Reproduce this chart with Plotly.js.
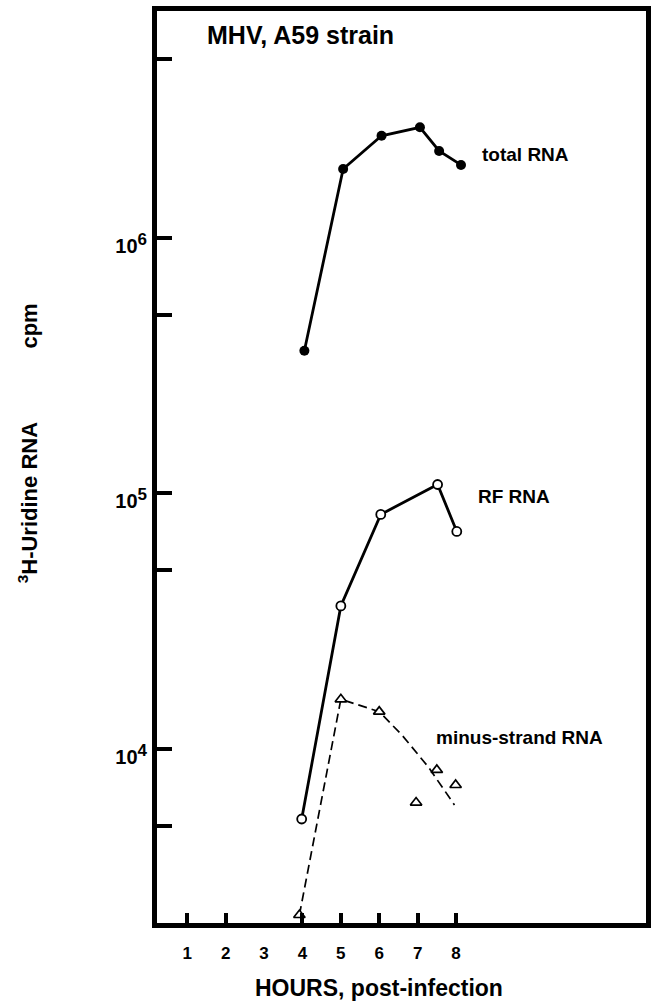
<!DOCTYPE html>
<html>
<head>
<meta charset="utf-8">
<script src="https://cdn.plot.ly/plotly-3.0.1.min.js"></script>
<style>html,body{margin:0;padding:0;background:#fff;}#chart{width:651px;height:1001px;}</style>
</head>
<body>
<div id="chart"></div>
<script>
// ---- data ----
var totalHours = [4.05, 5.06, 6.06, 7.06, 7.56, 8.13];
var totalCpm   = [362000, 1860000, 2510000, 2710000, 2190000, 1930000];

var rfHours = [3.98, 5.00, 6.04, 7.52, 8.02];
var rfCpm   = [5320, 36300, 82800, 108400, 71000];

var minusHours = [3.92, 5.00, 6.00, 6.96, 7.50, 7.99];
var minusCpm   = [2240, 15650, 14000, 6170, 8280, 7230];

var minusTrendHours = [3.92, 5.00, 6.00, 6.60, 7.28, 7.96];
var minusTrendCpm   = [2240, 15650, 14000, 11300, 8500, 6040];

var xTickHours  = [1, 2, 4, 5, 6, 7, 8];
var xLabelHours = [1, 2, 3, 4, 5, 6, 7, 8];
var xLabelText  = ['1', '2', '3', '4', '5', '6', '7', '8'];
var yTickVals   = [5000, 10000, 50000, 100000, 500000, 1000000, 5000000];
var yLabelVals  = [10000, 100000, 1000000];
var yLabelText  = ['10<sup><span style="font-size:17px">4</span></sup>',
                   '10<sup><span style="font-size:17px">5</span></sup>',
                   '10<sup><span style="font-size:17px">6</span></sup>'];

var seriesLabels = ['total RNA', 'RF RNA', 'minus-strand RNA'];
var chartTitle = 'MHV, A59 strain';
var xTitle = 'HOURS, post-infection';
var yTitle = '<sup>3</sup>H-Uridine RNA' + '\u00a0'.repeat(12) + 'cpm';

var FONT = 'Liberation Sans, Arial, Helvetica, sans-serif';

var traces = [
  {x: totalHours, y: totalCpm, mode: 'lines+markers', type: 'scatter',
   line: {color: '#000', width: 2.8},
   marker: {symbol: 'circle', size: 10, color: '#000'}},
  {x: rfHours, y: rfCpm, mode: 'lines+markers', type: 'scatter',
   line: {color: '#000', width: 2.8},
   marker: {symbol: 'circle', size: 9, color: '#fff', line: {color: '#000', width: 1.8}}},
  {x: minusTrendHours, y: minusTrendCpm, mode: 'lines', type: 'scatter',
   line: {color: '#000', width: 1.7, dash: '9px,5px'}},
  {x: minusHours, y: minusCpm, mode: 'markers', type: 'scatter', cliponaxis: false,
   marker: {symbol: 'triangle-up', size: 10, color: '#fff', line: {color: '#000', width: 1.7}}},
  {x: [], y: [], xaxis: 'x2', yaxis: 'y', type: 'scatter', mode: 'markers'},
  {x: [], y: [], xaxis: 'x', yaxis: 'y2', type: 'scatter', mode: 'markers'}
];

var xRange = [0.211, 12.949];
var yRange = [3.319, 6.888];

var layout = {
  width: 651, height: 1001,
  margin: {l: 157, r: 5, t: 11, b: 78},
  paper_bgcolor: '#fff', plot_bgcolor: '#fff',
  showlegend: false,
  font: {family: FONT, color: '#000', weight: 'bold'},
  xaxis: {
    range: xRange, showgrid: false, zeroline: false,
    showline: true, linecolor: '#000', linewidth: 5, mirror: true,
    ticks: 'inside', ticklen: 10, tickwidth: 4, tickcolor: '#000',
    tickmode: 'array', tickvals: xTickHours, showticklabels: false
  },
  xaxis2: {
    overlaying: 'x', anchor: 'y', side: 'bottom', range: xRange,
    showgrid: false, zeroline: false, showline: false, ticks: '',
    tickmode: 'array', tickvals: xLabelHours, ticktext: xLabelText,
    tickfont: {family: FONT, size: 17, weight: 'bold', color: '#000'},
    ticklabelstandoff: 18
  },
  yaxis: {
    type: 'log', range: yRange, showgrid: false, zeroline: false,
    showline: true, linecolor: '#000', linewidth: 5, mirror: true,
    ticks: 'inside', ticklen: 15, tickwidth: 4, tickcolor: '#000',
    tickmode: 'array', tickvals: yTickVals, showticklabels: false
  },
  yaxis2: {
    overlaying: 'y', anchor: 'x', side: 'left', type: 'log', range: yRange,
    showgrid: false, zeroline: false, showline: false, ticks: '',
    tickmode: 'array', tickvals: yLabelVals, ticktext: yLabelText,
    tickfont: {family: FONT, size: 20, weight: 'bold', color: '#000'},
    ticklabelshift: 8, ticklabelstandoff: 9
  },
  annotations: [
    {text: chartTitle, xref: 'paper', yref: 'paper', x: 0.0982, y: 0.9737,
     xanchor: 'left', yanchor: 'middle', showarrow: false,
     font: {family: FONT, size: 25, weight: 'bold', color: '#000'}},
    {text: seriesLabels[0], xref: 'paper', yref: 'paper', x: 0.6605, y: 0.8432,
     xanchor: 'left', yanchor: 'middle', showarrow: false,
     font: {family: FONT, size: 19, weight: 'bold', color: '#000'}},
    {text: seriesLabels[1], xref: 'paper', yref: 'paper', x: 0.6524, y: 0.4682,
     xanchor: 'left', yanchor: 'middle', showarrow: false,
     font: {family: FONT, size: 19, weight: 'bold', color: '#000'}},
    {text: seriesLabels[2], xref: 'paper', yref: 'paper', x: 0.5665, y: 0.2039,
     xanchor: 'left', yanchor: 'middle', showarrow: false,
     font: {family: FONT, size: 19, weight: 'bold', color: '#000'}},
    {text: yTitle, xref: 'paper', yref: 'paper', x: -0.2638, y: 0.526,
     xanchor: 'center', yanchor: 'middle', showarrow: false, textangle: -90,
     font: {family: FONT, size: 22, weight: 'bold', color: '#000'}},
    {text: xTitle, xref: 'paper', yref: 'paper', x: 0.454, y: -0.0715,
     xanchor: 'center', yanchor: 'middle', showarrow: false,
     font: {family: FONT, size: 23, weight: 'bold', color: '#000'}}
  ]
};

Plotly.newPlot('chart', traces, layout, {displayModeBar: false, staticPlot: true});
</script>
</body>
</html>
